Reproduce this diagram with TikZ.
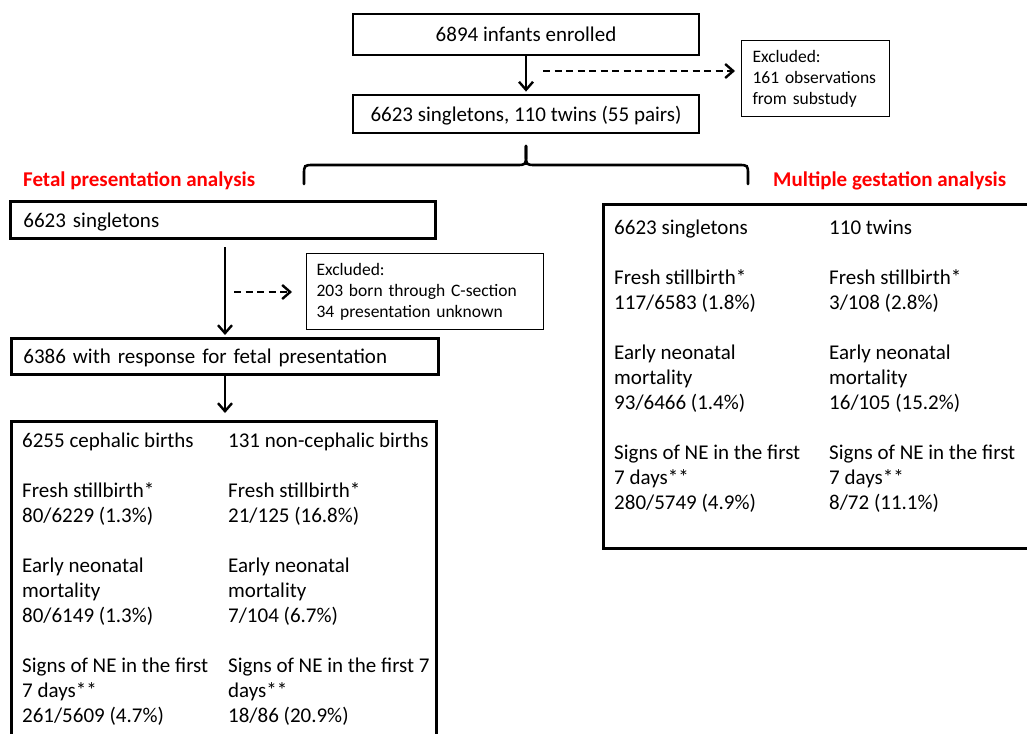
\documentclass[tikz,border=0pt]{standalone}
\usepackage{fontspec}
\setmainfont{Carlito}
\usepackage{tikz}
\usetikzlibrary{arrows.meta}
\tikzset{>={Straight Barb[length=8pt,width=14pt]}}
\tikzset{
  mainbox/.style={draw, line width=2.8pt, inner ysep=0pt, text height=18pt, text depth=3pt,
    font=\fontsize{21}{25}\selectfont},
  exclbox/.style={draw, line width=1.1pt, anchor=north west, align=left, inner ysep=0pt,
    minimum height=76pt, font=\fontsize{17.5}{21}\selectfont},
  bigbox/.style={draw, line width=2.8pt, anchor=north west},
  coltext/.style={anchor=base west, align=left, inner sep=0pt, font=\fontsize{21}{25}\selectfont},
  title/.style={anchor=base west, inner sep=0pt, text=red, font=\fontsize{21}{25}\selectfont\bfseries},
  flow/.style={->, line width=2.4pt},
  dashflow/.style={->, line width=2.4pt, dash pattern=on 7pt off 4.5pt},
  bracket/.style={line width=2.6pt, line cap=round}
}

\begin{document}
\begin{tikzpicture}[x=1pt,y=-1pt]
                \path[use as bounding box, fill=white] (0,0) rectangle (1027,733);

                \node[mainbox, minimum width=346pt, minimum height=41pt] (enrolled) at (526,34.5) {6894 infants enrolled};
                \node[mainbox, minimum width=346pt, minimum height=38pt] (cohort) at (526,114) {6623 singletons, 110 twins (55 pairs)};
                \node[exclbox, inner xsep=11pt, text width=126pt] (substudy) at (741,40) {Excluded:\\161 observations\\from substudy};

                \draw[flow, shorten >=2pt] (enrolled) -- (cohort);
                \coordinate (skip1) at (543,71);
                \draw[dashflow, shorten >=6pt] (skip1) -- (skip1 -| substudy.west);

                \coordinate (fork) at (526,146);
                \foreach \s in {-1,1} {
                  \draw[bracket] (fork) -- (526,155) .. controls (526,165) .. ({526+10*\s},165)
                    -- ({526+212*\s},165) .. controls ({526+222*\s},165) .. ({526+222*\s},175) -- ({526+222*\s},184);
                }

                \node[title] (fetal) at (23,186) {Fetal presentation analysis};
                \node[title] (multiple) at (773,186) {Multiple gestation analysis};

                \node[mainbox, anchor=north west, minimum height=37pt, inner xsep=13pt, text width=399pt, align=left] (single) at (9,200) {6623 singletons};
                \node[exclbox, inner xsep=10pt, text width=217pt] (csection) at (306,253) {Excluded:\\203 born through C-section\\34 presentation unknown};
                \node[mainbox, anchor=north west, minimum height=36pt, inner xsep=12pt, text width=403pt, align=left] (response) at (10,337) {6386 with response for fetal presentation};

                \coordinate (trunk) at (225,247);
                \draw[flow, shorten >=2pt] (trunk) -- (trunk |- response.north);
                \coordinate (skip2) at (234,292);
                \draw[dashflow, shorten >=14pt] (skip2) -- (skip2 -| csection.west);

                \node[bigbox, minimum width=425pt, minimum height=330pt] (cephalic) at (10,420) {};
                \draw[flow, shorten >=7pt] (response.south -| trunk) -- (cephalic.north -| trunk);
                \node[coltext] (ceph1) at (22,722) {6255 cephalic births\\[25pt]Fresh stillbirth*\\80/6229 (1.3\%)\\[25pt]Early neonatal\\mortality\\80/6149 (1.3\%)\\[25pt]Signs of NE in the first\\7 days**\\261/5609 (4.7\%)};
                \node[coltext] (ceph2) at (228,722) {131 non-cephalic births\\[25pt]Fresh stillbirth*\\21/125 (16.8\%)\\[25pt]Early neonatal\\mortality\\7/104 (6.7\%)\\[25pt]Signs of NE in the first 7\\days**\\18/86 (20.9\%)};

                \node[bigbox, minimum width=440pt, minimum height=344pt] (gestation) at (602,203) {};
                \node[coltext] (gest1) at (614,509) {6623 singletons\\[25pt]Fresh stillbirth*\\117/6583 (1.8\%)\\[25pt]Early neonatal\\mortality\\93/6466 (1.4\%)\\[25pt]Signs of NE in the first\\7 days**\\280/5749 (4.9\%)};
                \node[coltext] (gest2) at (829,509) {110 twins\\[25pt]Fresh stillbirth*\\3/108 (2.8\%)\\[25pt]Early neonatal\\mortality\\16/105 (15.2\%)\\[25pt]Signs of NE in the first\\7 days**\\8/72 (11.1\%)};
              \end{tikzpicture}
\end{document}
